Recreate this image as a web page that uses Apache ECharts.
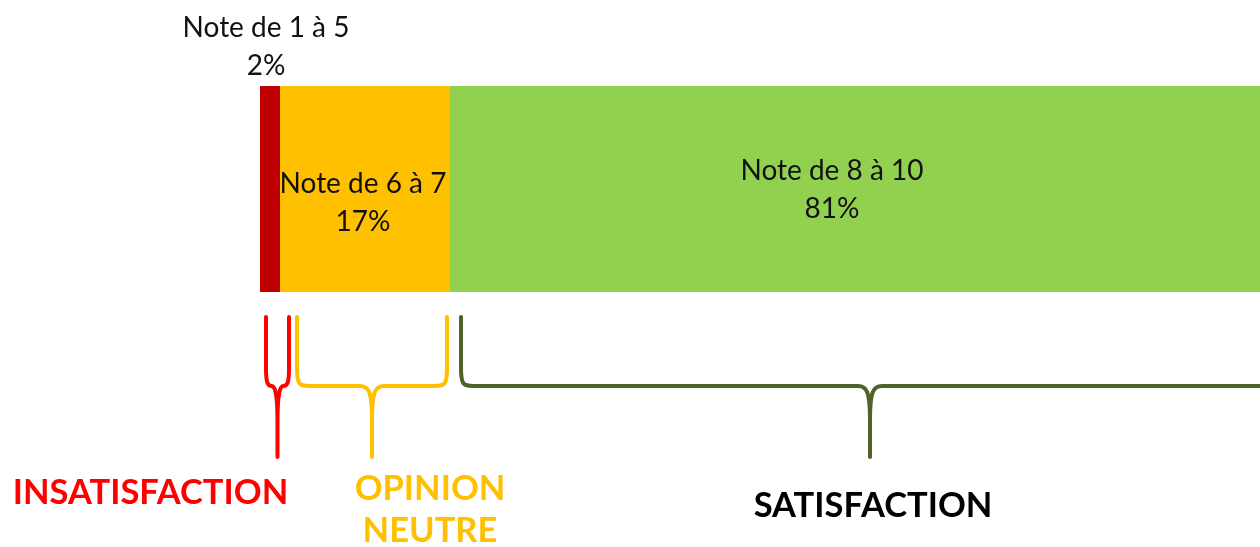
<!DOCTYPE html>
<html>
<head>
<meta charset="utf-8">
<script src="https://cdn.jsdelivr.net/npm/echarts@6/dist/echarts.min.js"></script>
<style>
  html, body { margin: 0; padding: 0; background: #fff; }
  #chart { width: 1260px; height: 547px; }
</style>
</head>
<body>
<div id="chart"></div>
<script>
// data
const noteLabels = ['Note de 1 à 5', 'Note de 6 à 7', 'Note de 8 à 10']
const noteValues = [2, 17, 81]
const barColors = ['#C00000', '#FFC000', '#92D050']

// brace ranges (in % units along the bar) and the group names under them
const braceFrom = [0.6, 3.7, 20.1]
const braceTo = [2.9, 18.7, 101.9]
const groupNames = ['INSATISFACTION', 'OPINION\nNEUTRE', 'SATISFACTION']
const groupColors = ['#FF0000', '#FFC000', '#000000']
const braceColors = ['#FF0000', '#FFC000', '#4F6228']

// label placement tweaks
const labelStyles = [
  { position: 'top', offset: [-4, 4] },
  { position: 'inside', offset: [-2, 14] },
  { position: 'inside', offset: [-23, 1] },
]
const groupLabelDx = [-127, 58, 3]
const groupLabelY = [493, 510, 506]

const FONT = 'Lato, "Open Sans", sans-serif'

const chart = echarts.init(document.getElementById('chart'), null, { renderer: 'canvas' })

function bracePath(x1, x2, y0, y1, y2) {
  const xc = (x1 + x2) / 2
  const w = x2 - x1
  const rx = Math.min(12, w / 4)
  const ry = Math.min(18, w)
  const tx = Math.min(12, w / 4)
  const ty = 34
  return [
    'M', x1, y0,
    'L', x1, y1 - ry,
    'C', x1, y1 - 2, x1 + 2, y1, x1 + rx, y1,
    'L', xc - tx, y1,
    'C', xc - 3, y1, xc, y1 + 6, xc, y1 + ty,
    'L', xc, y2,
    'M', x2, y0,
    'L', x2, y1 - ry,
    'C', x2, y1 - 2, x2 - 2, y1, x2 - rx, y1,
    'L', xc + tx, y1,
    'C', xc + 3, y1, xc, y1 + 6, xc, y1 + ty,
  ].join(' ')
}

const barSeries = noteLabels.map((name, i) => ({
  name,
  type: 'bar',
  stack: 'notes',
  barWidth: '100%',
  data: [noteValues[i]],
  itemStyle: { color: barColors[i] },
  label: {
    show: true,
    position: labelStyles[i].position,
    offset: labelStyles[i].offset,
    formatter: () => name + '\n' + noteValues[i] + '%',
    color: '#111',
    fontFamily: FONT,
    fontSize: 28,
    lineHeight: 38,
    align: 'center',
  },
}))

const braceSeries = {
  type: 'custom',
  clip: false,
  silent: true,
  data: braceFrom.map((f, i) => [f, braceTo[i], i]),
  renderItem: (params, api) => {
    const i = api.value(2)
    const p1 = api.coord([api.value(0), 'all'])
    const p2 = api.coord([api.value(1), 'all'])
    const band = api.size([0, 1])[1]
    const bottom = p1[1] + band / 2
    const y0 = bottom + 25
    const y1 = bottom + 94
    const y2 = bottom + 165
    const xc = (p1[0] + p2[0]) / 2
    return {
      type: 'group',
      children: [
        {
          type: 'path',
          shape: { pathData: bracePath(p1[0], p2[0], y0, y1, y2) },
          style: { fill: null, stroke: braceColors[i], lineWidth: 4, lineCap: 'round', lineJoin: 'round' },
        },
        {
          type: 'text',
          x: xc + groupLabelDx[i],
          y: groupLabelY[i],
          style: {
            text: groupNames[i],
            fill: groupColors[i],
            font: 'bold 34.5px ' + FONT,
            align: 'center',
            verticalAlign: 'middle',
            lineHeight: 42,
          },
        },
      ],
    }
  },
}

chart.setOption({
  animation: false,
  backgroundColor: '#fff',
  grid: { left: 260, right: 0, top: 86, height: 206 },
  xAxis: { type: 'value', min: 0, max: 100, show: false },
  yAxis: { type: 'category', data: ['all'], show: false },
  series: [...barSeries, braceSeries],
})
</script>
</body>
</html>
